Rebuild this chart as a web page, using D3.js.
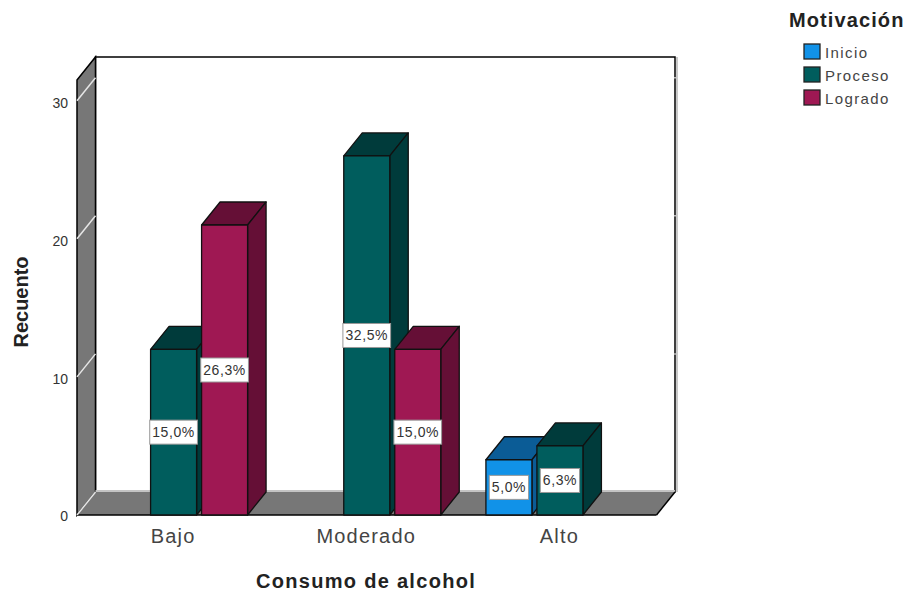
<!DOCTYPE html>
<html>
<head>
<meta charset="utf-8">
<script src="https://d3js.org/d3.v7.min.js"></script>
<style>
  body { margin: 0; background: #fff; }
  text { font-family: "Liberation Sans", Arial, sans-serif; }
</style>
</head>
<body>
<svg width="907" height="594"></svg>
<script>
var categories = ["Bajo", "Moderado", "Alto"];
var series = ["Inicio", "Proceso", "Logrado"];
var inicio = [null, null, 4];
var proceso = [12, 26, 5];
var logrado = [21, 12, null];
var inicioPct = [null, null, "5,0%"];
var procesoPct = ["15,0%", "32,5%", "6,3%"];
var logradoPct = ["26,3%", "15,0%", null];
var yTicks = [0, 10, 20, 30];

var frontColor = ["#1192e8", "#005d5d", "#9f1853"];
var topColor = ["#0b5c96", "#003b3b", "#650f36"];
var sideColor = ["#0b5c96", "#003b3b", "#650f36"];
var values = [inicio, proceso, logrado];
var pcts = [inicioPct, procesoPct, logradoPct];

var svg = d3.select("svg");

// depth of the fake 3d
var dx = 18.5, dy = -23;
var left = 77, right = 656.5, bottom = 515, top_ = 80;

var y = d3.scaleLinear().domain([0, 31.5]).range([bottom, top_]);
var x = d3.scaleBand().domain(categories).range([left, right]);
var xs = d3.scaleBand().domain(series)
  .range([x.bandwidth() / 2 - 74, x.bandwidth() / 2 + 74])
  .paddingInner(0.098).paddingOuter(0);

function poly(pts) {
  return pts.map(function (p) { return p.join(","); }).join(" ");
}

// back wall, with its light edge on the right
svg.append("line")
  .attr("x1", right + dx + 2).attr("x2", right + dx + 2)
  .attr("y1", top_ + dy).attr("y2", bottom + dy)
  .attr("stroke", "#c8c8c8").attr("stroke-width", 2);
svg.append("rect")
  .attr("x", left + dx).attr("y", top_ + dy)
  .attr("width", right - left).attr("height", bottom - top_)
  .attr("fill", "#fff").attr("stroke", "#000").attr("stroke-width", 1.5);

// left wall
svg.append("polygon")
  .attr("points", poly([[left, top_], [left + dx, top_ + dy], [left + dx, bottom + dy], [left, bottom]]))
  .attr("fill", "#777").attr("stroke", "#000").attr("stroke-width", 1.5);

// floor
svg.append("polygon")
  .attr("points", poly([[left, bottom], [left + dx, bottom + dy], [right + dx, bottom + dy], [right, bottom]]))
  .attr("fill", "#777").attr("stroke", "none");
svg.append("line")
  .attr("x1", left + dx).attr("x2", right + dx)
  .attr("y1", bottom + dy - 1).attr("y2", bottom + dy - 1)
  .attr("stroke", "#c4c4c4").attr("stroke-width", 2);
svg.append("line")
  .attr("x1", left).attr("x2", right)
  .attr("y1", bottom).attr("y2", bottom)
  .attr("stroke", "#000").attr("stroke-width", 1.5);
svg.append("line")
  .attr("x1", right).attr("x2", right + dx)
  .attr("y1", bottom).attr("y2", bottom + dy)
  .attr("stroke", "#000").attr("stroke-width", 1.5);

// white grid marks on the wall
yTicks.forEach(function (t) {
  svg.append("line")
    .attr("x1", left).attr("y1", y(t))
    .attr("x2", left + dx).attr("y2", y(t) + dy)
    .attr("stroke", "#e6e6e6").attr("stroke-width", 1.5);
  if (t > 0) {
    svg.append("line")
      .attr("x1", right + dx - 1).attr("x2", right + dx + 1)
      .attr("y1", y(t) + dy).attr("y2", y(t) + dy)
      .attr("stroke", "#bbb").attr("stroke-width", 1.5);
  }
});

// bars
categories.forEach(function (c, i) {
  series.forEach(function (s, k) {
    var v = values[k][i];
    if (v == null) return;
    var x0 = x(c) + xs(s), x1 = x0 + xs.bandwidth();
    var yt = y(v), yb = y(0);
    var g = svg.append("g").attr("class", "bar");
    g.append("polygon")
      .attr("points", poly([[x0, yt], [x0 + dx, yt + dy], [x1 + dx, yt + dy], [x1, yt]]))
      .attr("fill", topColor[k]);
    g.append("polygon")
      .attr("points", poly([[x1, yt], [x1 + dx, yt + dy], [x1 + dx, yb + dy], [x1, yb]]))
      .attr("fill", sideColor[k]);
    g.append("rect")
      .attr("x", x0).attr("y", yt)
      .attr("width", x1 - x0).attr("height", yb - yt)
      .attr("fill", frontColor[k]);
    g.selectAll("polygon,rect")
      .attr("stroke", "#111").attr("stroke-width", 1.3).attr("stroke-linejoin", "round");
  });
});

// percent labels on top of all the bars, box sized from the text
categories.forEach(function (c, i) {
  series.forEach(function (s, k) {
    var v = values[k][i];
    if (v == null) return;
    var cx = x(c) + xs(s) + xs.bandwidth() / 2;
    var cy = (y(v) + y(0)) / 2;
    var box = svg.append("rect");
    var label = svg.append("text")
      .attr("x", cx).attr("y", cy + 5)
      .attr("text-anchor", "middle")
      .attr("font-size", 14).attr("letter-spacing", 0.6).attr("fill", "#333")
      .text(pcts[k][i]);
    var w = label.node().getComputedTextLength() + 5;
    box.attr("x", cx - w / 2).attr("y", cy - 12)
      .attr("width", w).attr("height", 24)
      .attr("fill", "#fff").attr("stroke", "#999").attr("stroke-width", 1);
  });
});

// y axis labels
yTicks.forEach(function (t) {
  svg.append("text")
    .attr("x", 68).attr("y", y(t) + (t === 0 ? 6 : 7))
    .attr("text-anchor", "end")
    .attr("font-size", 14).attr("fill", "#333")
    .text(t);
});

// category labels
categories.forEach(function (c) {
  svg.append("text")
    .attr("x", x(c) + x.bandwidth() / 2 - 0.5).attr("y", 543)
    .attr("text-anchor", "middle")
    .attr("font-size", 20).attr("letter-spacing", 1.2).attr("fill", "#444")
    .text(c);
});

svg.append("text")
  .attr("x", 366).attr("y", 588)
  .attr("text-anchor", "middle")
  .attr("font-size", 20).attr("font-weight", "bold").attr("letter-spacing", 1.3).attr("fill", "#222")
  .text("Consumo de alcohol");

svg.append("text")
  .attr("transform", "translate(28,302) rotate(-90)")
  .attr("text-anchor", "middle")
  .attr("font-size", 20).attr("font-weight", "bold").attr("fill", "#222")
  .text("Recuento");

// legend
svg.append("text")
  .attr("x", 789).attr("y", 27)
  .attr("font-size", 20).attr("font-weight", "bold").attr("letter-spacing", 1.1).attr("fill", "#222")
  .text("Motivación");

series.forEach(function (s, k) {
  var ly = 44 + k * 23;
  svg.append("rect")
    .attr("x", 804).attr("y", ly)
    .attr("width", 16).attr("height", 15)
    .attr("fill", frontColor[k]).attr("stroke", "#222").attr("stroke-width", 1.3);
  svg.append("text")
    .attr("x", 825).attr("y", ly + 14)
    .attr("font-size", 15).attr("letter-spacing", 1.4).attr("fill", "#444")
    .text(s);
});
</script>
</body>
</html>
